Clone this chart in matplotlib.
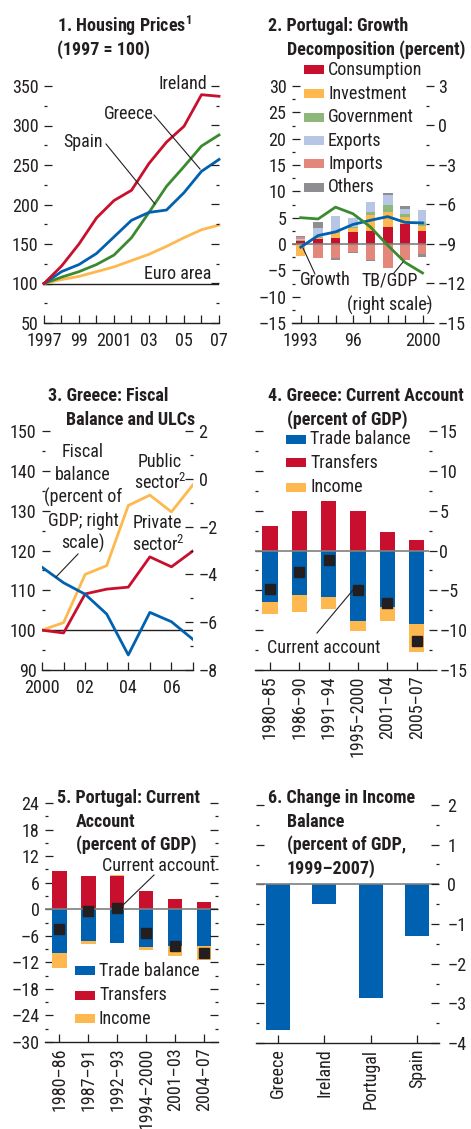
import numpy as np
import matplotlib
matplotlib.use("Agg")
import matplotlib.pyplot as plt
from matplotlib import font_manager as fm
from matplotlib.ticker import MultipleLocator, FixedLocator, FuncFormatter
from matplotlib.patches import Rectangle
from matplotlib.lines import Line2D

# ---------------------------------------------------------------- data
# 1. Housing prices (1997 = 100)
hp_years = [1997, 1998, 1999, 2000, 2001, 2002, 2003, 2004, 2005, 2006, 2007]
hp_ireland = [100, 122, 150, 183, 205, 218, 252, 279, 299, 339, 337]
hp_greece = [100, 108, 115, 124, 136, 158, 190, 223, 248, 274, 288]
hp_spain = [100, 115, 124, 138, 159, 180, 190, 193, 215, 242, 257]
hp_euro = [100, 105, 109, 115, 121, 129, 137, 147, 158, 168, 174]
hp_tick_years = [1997, 1999, 2001, 2003, 2005, 2007]
hp_tick_labels = ["1997", "99", "2001", "03", "05", "07"]

# 2. Portugal: growth decomposition (percent)
pt_years = [1993, 1994, 1995, 1996, 1997, 1998, 1999, 2000]
pt_consumption = [0.5, 0.9, 1.2, 2.3, 2.5, 3.3, 3.8, 2.5]
pt_investment = [-2.2, 0.3, 0.8, 0.7, 3.0, 2.7, 1.3, 0.9]
pt_government = [0.2, 0.1, 0.3, 0.3, 0.6, 1.4, 0.6, 0.8]
pt_exports = [0.3, 1.8, 3.0, 1.6, 1.8, 1.9, 0.9, 2.3]
pt_imports = [0.3, -2.6, -2.7, -1.5, -3.0, -4.6, -3.0, -1.9]
pt_others = [0.3, 1.0, -0.4, -0.3, -0.3, 0.4, 0.6, -0.5]
pt_growth = [-0.6, 1.6, 2.3, 3.7, 4.5, 5.2, 4.1, 4.0]
pt_tb_gdp = [-7.0, -7.1, -6.2, -6.7, -7.7, -9.1, -10.4, -11.2]
pt_tick_years = [1993, 1996, 2000]
pt_tick_labels = ["1993", "96", "2000"]

# 3. Greece: fiscal balance and ULCs
ulc_years = [2000, 2001, 2002, 2003, 2004, 2005, 2006, 2007]
ulc_public = [100, 101.9, 114.0, 116.2, 131.3, 133.9, 129.7, 136.5]
ulc_private = [100, 99.3, 109.1, 110.3, 110.8, 118.4, 115.9, 119.9]
gr_fiscal = [-3.7, -4.35, -4.83, -5.66, -7.37, -5.59, -5.98, -6.72]
ulc_tick_years = [2000, 2002, 2004, 2006]
ulc_tick_labels = ["2000", "02", "04", "06"]

# 4. Greece: current account (percent of GDP)
gr_periods = ["1980–85", "1986–90", "1991–94", "1995–2000", "2001–04", "2005–07"]
gr_trade = [-6.5, -5.6, -5.8, -8.8, -7.1, -9.2]
gr_transfers = [3.1, 5.0, 6.2, 5.0, 2.3, 1.3]
gr_income = [-1.5, -2.1, -1.5, -1.3, -1.8, -3.5]
gr_current = [-4.8, -2.7, -1.2, -5.0, -6.6, -11.3]

# 5. Portugal: current account (percent of GDP)
pc_periods = ["1980–86", "1987–91", "1992–93", "1994–2000", "2001–03", "2004–07"]
pc_trade = [-9.8, -7.2, -7.6, -8.5, -8.3, -8.3]
pc_transfers = [8.7, 7.6, 7.4, 4.2, 2.3, 1.7]
pc_income = [-3.4, -0.7, 0.4, -0.8, -2.2, -3.1]
pc_current = [-4.5, -0.4, 0.2, -5.3, -8.3, -9.8]

# 6. Change in income balance (percent of GDP, 1999–2007)
ib_countries = ["Greece", "Ireland", "Portugal", "Spain"]
ib_change = [-3.67, -0.49, -2.86, -1.3]

# ---------------------------------------------------------------- style
RED = "#C8102E"
GREEN = "#3B8A2F"
BLUE = "#0061B0"
YELLOW = "#FDB94F"
GOV = "#8DB77B"
EXPORTS = "#B8C6E6"
IMPORTS = "#E3877B"
OTHERS = "#8E8E91"
DARK = "#231F20"
GRAY = "#7F7F7F"

available = {f.name for f in fm.fontManager.ttflist}
narrow = [n for n in ("Liberation Sans Narrow", "Roboto Condensed",
                      "Open Sans Condensed", "Arial Narrow") if n in available]
if narrow:
    FONT = narrow[0]
else:
    FONT = "DejaVu Sans"
    plt.rcParams["font.stretch"] = "condensed"

plt.rcParams["font.family"] = [FONT, "DejaVu Sans"]
plt.rcParams["font.size"] = 13
plt.rcParams["mathtext.default"] = "regular"
plt.rcParams["text.color"] = DARK
plt.rcParams["xtick.color"] = DARK
plt.rcParams["ytick.color"] = DARK
plt.rcParams["xtick.labelsize"] = 13
plt.rcParams["ytick.labelsize"] = 13

W, H = 471, 1129
fig = plt.figure(figsize=(W / 100, H / 100), dpi=100)


def px_axes(left, top, right, bottom):
    ax = fig.add_axes([left / W, 1 - bottom / H, (right - left) / W, (bottom - top) / H])
    for s in ("top", "left", "right"):
        ax.spines[s].set_visible(False)
    ax.spines["bottom"].set_color(DARK)
    ax.spines["bottom"].set_linewidth(1.0)
    ax.patch.set_visible(False)
    return ax


def ftext(x, y, s, **kw):
    kw.setdefault("va", "baseline")
    return fig.text(x / W, 1 - y / H, s, **kw)


def fline(x0, y0, x1, y1, lw=0.8):
    fig.add_artist(Line2D([x0 / W, x1 / W], [1 - y0 / H, 1 - y1 / H],
                          transform=fig.transFigure, color=DARK, lw=lw))


def legend_rows(x, rows, labels, colors):
    for yc, lab, col in zip(rows, labels, colors):
        fig.add_artist(Rectangle((x / W, 1 - (yc + 4.5) / H), 20 / W, 9 / H,
                                 transform=fig.transFigure, color=col, lw=0))
        ftext(x + 24, yc + 5.5, lab)


def dash(v, pos=None):
    s = f"{v:g}"
    if s in ("-0", "0"):
        return "0"
    return s.replace("-", "–")


def side_ticks(ax, side, lim, major, minor, labels, direction="in", pad=4):
    ax.set_ylim(*lim)
    ax.yaxis.set_major_locator(MultipleLocator(major))
    ax.yaxis.set_minor_locator(MultipleLocator(minor))
    ax.yaxis.set_major_formatter(FuncFormatter(dash))
    ax.tick_params(axis="y", which="both", direction=direction, color=DARK, width=0.9,
                   left=(side == "left"), right=(side == "right"),
                   labelleft=(labels and side == "left"),
                   labelright=(labels and side == "right"), pad=pad)
    ax.tick_params(axis="y", which="major", length=5.5)
    ax.tick_params(axis="y", which="minor", length=2.5)


def right_twin(ax):
    tw = ax.twinx()
    for s in tw.spines.values():
        s.set_visible(False)
    return tw


def year_axis(ax, lim, all_years, tick_years, tick_labels):
    ax.set_xlim(*lim)
    ax.xaxis.set_major_locator(FixedLocator(tick_years))
    ax.xaxis.set_minor_locator(FixedLocator([y for y in all_years if y not in tick_years]))
    ax.set_xticklabels(tick_labels)
    ax.tick_params(axis="x", which="both", direction="in", length=6, width=0.9,
                   color=DARK, top=False, pad=6.5)


def cat_axis(ax, labels, lim):
    pos = np.arange(len(labels))
    ax.set_xlim(*lim)
    ax.set_xticks(pos)
    ax.set_xticklabels(labels, rotation=90)
    ax.tick_params(axis="x", which="both", direction="in", length=6, width=0.9,
                   color=DARK, top=False, pad=4)
    return pos


# ---------------------------------------------------------------- panel 1
ax1 = px_axes(44, 86, 219, 323)
ax1.axhline(100, color=DARK, lw=1.0, zorder=1)
ax1.plot(hp_years, hp_euro, color=YELLOW, lw=2.0, zorder=3, clip_on=False)
ax1.plot(hp_years, hp_greece, color=GREEN, lw=2.0, zorder=3, clip_on=False)
ax1.plot(hp_years, hp_spain, color=BLUE, lw=2.0, zorder=3, clip_on=False)
ax1.plot(hp_years, hp_ireland, color=RED, lw=2.0, zorder=3, clip_on=False)
year_axis(ax1, (1997, 2007), hp_years, hp_tick_years, hp_tick_labels)
side_ticks(ax1, "left", (50, 350), 50, 25, True)
side_ticks(right_twin(ax1), "right", (50, 350), 50, 25, False)

ftext(57, 32, "1. Housing Prices$^1$", fontweight="bold")
ftext(57, 55, "(1997 = 100)", fontweight="bold")
ftext(207, 89, "Ireland", ha="right")
ftext(104, 119, "Greece")
ftext(63, 147, "Spain")
ftext(144, 279, "Euro area")
fline(154, 115, 200, 169)
fline(106, 144, 155, 204)

# ---------------------------------------------------------------- panel 2
ax2 = px_axes(292, 86, 426, 323)
pos_base = np.zeros(len(pt_years))
neg_base = np.zeros(len(pt_years))
for series, col in ((pt_consumption, RED), (pt_investment, YELLOW),
                    (pt_government, GOV), (pt_exports, EXPORTS),
                    (pt_imports, IMPORTS), (pt_others, OTHERS)):
    v = np.array(series)
    p = np.clip(v, 0, None)
    n = np.clip(v, None, 0)
    ax2.bar(pt_years, p, bottom=pos_base, width=0.55, color=col, lw=0, zorder=2)
    ax2.bar(pt_years, n, bottom=neg_base, width=0.55, color=col, lw=0, zorder=2)
    pos_base += p
    neg_base += n
ax2.axhline(0, color=GRAY, lw=1.2, zorder=3)
ax2.plot(pt_years, pt_growth, color=BLUE, lw=2.0, zorder=4)
year_axis(ax2, (1992.5, 2000.2), pt_years, pt_tick_years, pt_tick_labels)
side_ticks(ax2, "left", (-15, 30), 5, 2.5, True)
tw2 = right_twin(ax2)
tw2.plot(pt_years, pt_tb_gdp, color=GREEN, lw=2.0, zorder=4)
side_ticks(tw2, "right", (-15, 3), 3, 1.5, True, direction="out", pad=3)

ftext(268, 31, "2. Portugal: Growth", fontweight="bold")
ftext(287, 55, "Decomposition (percent)", fontweight="bold")
legend_rows(304, [69.7, 93.3, 117, 140.7, 163.5, 187],
            ["Consumption", "Investment", "Government", "Exports", "Imports", "Others"],
            [RED, YELLOW, GOV, EXPORTS, IMPORTS, OTHERS])
ftext(300, 285, "Growth")
fline(315, 274, 303, 248)
ftext(361, 285, "TB/GDP")
ftext(347, 311, "(right scale)")
fline(394, 273, 403, 262)

# ---------------------------------------------------------------- panel 3
ax3 = px_axes(42, 431, 193, 670)
ax3.axhline(100, color=DARK, lw=1.0, zorder=1)
ax3.plot(ulc_years, ulc_public, color=YELLOW, lw=2.0, zorder=3)
ax3.plot(ulc_years, ulc_private, color=RED, lw=2.0, zorder=3)
year_axis(ax3, (2000, 2007), ulc_years, ulc_tick_years, ulc_tick_labels)
side_ticks(ax3, "left", (90, 150), 10, 5, True)
tw3 = right_twin(ax3)
tw3.plot(ulc_years, gr_fiscal, color=BLUE, lw=2.0, zorder=3)
side_ticks(tw3, "right", (-8, 2), 2, 1, True)

ftext(48, 401, "3. Greece: Fiscal", fontweight="bold")
ftext(66, 425, "Balance and ULCs", fontweight="bold")
for yb, line in zip([457, 480, 503, 526, 549],
                    ["Fiscal", "balance", "(percent of", "GDP; right", "scale)"]):
    ftext(83, yb, line, ha="center")
fline(78, 554, 56, 577)
ftext(160, 467, "Public", ha="center")
ftext(160, 489, "sector$^2$", ha="center")
ftext(157, 528, "Private", ha="center")
ftext(158, 551, "sector$^2$", ha="center")

# ---------------------------------------------------------------- panel 4
ax4 = px_axes(255, 431, 429, 670)
x4 = cat_axis(ax4, gr_periods, (-0.51, 5.42))
t4 = np.array(gr_trade)
r4 = np.array(gr_transfers)
i4 = np.array(gr_income)
ax4.bar(x4, t4, width=0.52, color=BLUE, lw=0, zorder=2)
ax4.bar(x4, r4, width=0.52, color=RED, lw=0, zorder=2)
ax4.bar(x4, i4, bottom=np.where(i4 < 0, t4, r4), width=0.52, color=YELLOW, lw=0, zorder=2)
ax4.axhline(0, color=GRAY, lw=1.2, zorder=3)
ax4.plot(x4, gr_current, ls="none", marker="s", ms=7.2, color=DARK, zorder=4)
side_ticks(ax4, "left", (-15, 15), 5, 2.5, False)
side_ticks(right_twin(ax4), "right", (-15, 15), 5, 2.5, True, direction="out", pad=2)

ftext(268, 401, "4. Greece: Current Account", fontweight="bold")
ftext(287, 425, "(percent of GDP)", fontweight="bold")
legend_rows(286, [439, 462.5, 487], ["Trade balance", "Transfers", "Income"],
            [BLUE, RED, YELLOW])
ftext(267, 653, "Current account")
fline(317, 633, 353, 590)

# ---------------------------------------------------------------- panel 5
ax5 = px_axes(45, 803, 218, 1042)
x5 = cat_axis(ax5, pc_periods, (-0.495, 5.48))
t5 = np.array(pc_trade)
r5 = np.array(pc_transfers)
i5 = np.array(pc_income)
ax5.bar(x5, t5, width=0.5, color=BLUE, lw=0, zorder=2)
ax5.bar(x5, r5, width=0.5, color=RED, lw=0, zorder=2)
ax5.bar(x5, i5, bottom=np.where(i5 < 0, t5, r5), width=0.5, color=YELLOW, lw=0, zorder=2)
ax5.axhline(0, color=GRAY, lw=1.2, zorder=3)
ax5.plot(x5, pc_current, ls="none", marker="s", ms=7.2, color=DARK, zorder=4)
side_ticks(ax5, "left", (-30, 24), 6, 3, True)
side_ticks(right_twin(ax5), "right", (-30, 24), 6, 3, False)

ftext(57, 803, "5. Portugal: Current", fontweight="bold")
ftext(76, 827, "Account", fontweight="bold")
ftext(76, 850, "(percent of GDP)", fontweight="bold")
ftext(102, 871, "Current account")
fline(154, 875, 121, 907)
legend_rows(75, [970, 995, 1018], ["Trade balance", "Transfers", "Income"],
            [BLUE, RED, YELLOW])

# ---------------------------------------------------------------- panel 6
ax6 = px_axes(256, 805, 439, 1043)
x6 = cat_axis(ax6, ib_countries, (-0.47, 3.47))
ax6.bar(x6, ib_change, width=0.52, color=BLUE, lw=0, zorder=2)
ax6.axhline(0, color=GRAY, lw=1.2, zorder=3)
side_ticks(ax6, "left", (-4, 2), 1, 0.5, False)
side_ticks(right_twin(ax6), "right", (-4, 2), 1, 0.5, True, pad=6)

ftext(268, 803, "6. Change in Income", fontweight="bold")
ftext(287, 827, "Balance", fontweight="bold")
ftext(287, 850, "(percent of GDP,", fontweight="bold")
ftext(287, 874, "1999–2007)", fontweight="bold")

fig.savefig("out.png", dpi=100, facecolor="white")
